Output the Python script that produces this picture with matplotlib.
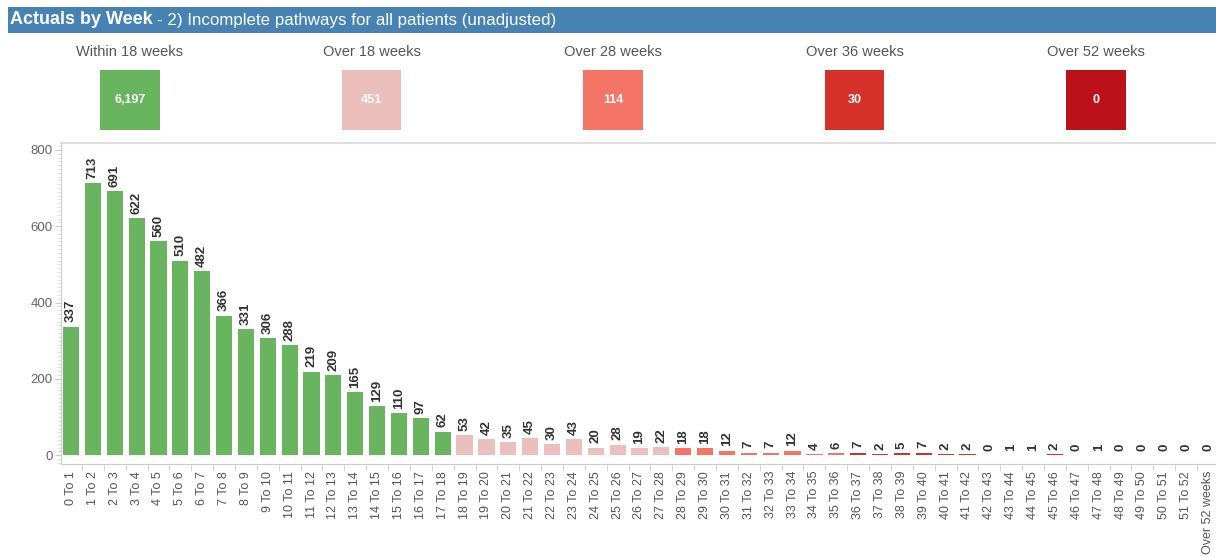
import matplotlib.pyplot as plt
from matplotlib.patches import Rectangle
from matplotlib.ticker import MultipleLocator, FixedLocator

plt.rcParams['font.family'] = ['Liberation Sans', 'DejaVu Sans']

# weekly counts, 0 To 1 ... 51 To 52, then Over 52 weeks
week_labels = [str(i) + " To " + str(i + 1) for i in range(52)] + ["Over 52 weeks"]
week_values = [337, 713, 691, 622, 560, 510, 482, 366, 331, 306, 288, 219, 209, 165,
               129, 110, 97, 62,
               53, 42, 35, 45, 30, 43, 20, 28, 19, 22,
               18, 18, 12, 7, 7, 12, 4, 6,
               7, 2, 5, 7, 2, 2, 0, 1, 1, 2, 0, 1, 0, 0, 0, 0,
               0]

summary_labels = ["Within 18 weeks", "Over 18 weeks", "Over 28 weeks", "Over 36 weeks", "Over 52 weeks"]
summary_values = [6197, 451, 114, 30, 0]
summary_colors = ["#69b55f", "#eabfbc", "#f47565", "#d6302b", "#bd111a"]


def band_color(i):
    if i < 18:
        return summary_colors[0]
    if i < 28:
        return summary_colors[1]
    if i < 36:
        return summary_colors[2]
    if i < 52:
        return summary_colors[3]
    return summary_colors[4]


W, H = 1216, 557
fig = plt.figure(figsize=(W / 100, H / 100), dpi=100)

# header band
fig.add_artist(Rectangle((8 / W, 1 - 33 / H), 1 - 8 / W, 26 / H, transform=fig.transFigure,
                         facecolor="#4682b4", edgecolor="none"))
fig.text(10 / W, 1 - 20 / H, "Actuals by Week", color="white", fontsize=13,
         fontweight="bold", va="center", ha="left")
fig.text(157 / W, 1 - 21 / H, "- 2) Incomplete pathways for all patients (unadjusted)",
         color="white", fontsize=12.2, va="center", ha="left")

# summary boxes
ax_s = fig.add_axes([0, 1 - 130 / H, 1, 60 / H])
xs = list(range(len(summary_values)))
ax_s.bar(xs, [1] * len(xs), width=0.248, color=summary_colors, align="center")
ax_s.set_xlim(-130 / 241.5, (W - 130) / 241.5)
ax_s.set_ylim(0, 1)
ax_s.axis("off")
for x, lab, v in zip(xs, summary_labels, summary_values):
    ax_s.text(x, 1.3, lab, ha="center", va="center", fontsize=10.5, color="#555555")
    ax_s.text(x, 0.5, format(v, ","), ha="center", va="center", fontsize=9,
              fontweight="bold", color="white")

# main chart
ax = fig.add_axes([61 / W, 1 - 464 / H, 1 - 61 / W, (464 - 143) / H])
pos = list(range(len(week_values)))
ax.bar(pos, week_values, width=0.74, color=[band_color(i) for i in pos])
for p, v in zip(pos, week_values):
    ax.annotate(str(v), (p, v), xytext=(0, 3), textcoords="offset points", rotation=90,
                ha="center", va="bottom", fontsize=9.5, fontweight="bold", color="#333333")

ax.set_xlim(-10 / 21.87, 52 + 8 / 21.87)
ax.set_ylim(-23, 818)
ax.set_yticks([0, 200, 400, 600, 800])
ax.yaxis.set_minor_locator(MultipleLocator(10))
ax.set_xticks(pos)
ax.set_xticklabels(week_labels, rotation=90, fontsize=9, color="#555555")
ax.xaxis.set_minor_locator(FixedLocator([p - 0.5 for p in pos]))
ax.tick_params(axis="x", which="major", length=0, pad=5)
ax.tick_params(axis="x", which="minor", length=5, color="#cccccc")
ax.tick_params(axis="y", which="major", length=4, color="#cccccc", labelsize=9.5,
               labelcolor="#666666", pad=2)
ax.tick_params(axis="y", which="minor", length=3, color="#dddddd")

for s in ["left", "bottom"]:
    ax.spines[s].set_color("#cccccc")
ax.spines["top"].set_color("#dddddd")
ax.spines["top"].set_linewidth(1.5)
ax.spines["right"].set_visible(False)

plt.savefig("out.png", dpi=100)
